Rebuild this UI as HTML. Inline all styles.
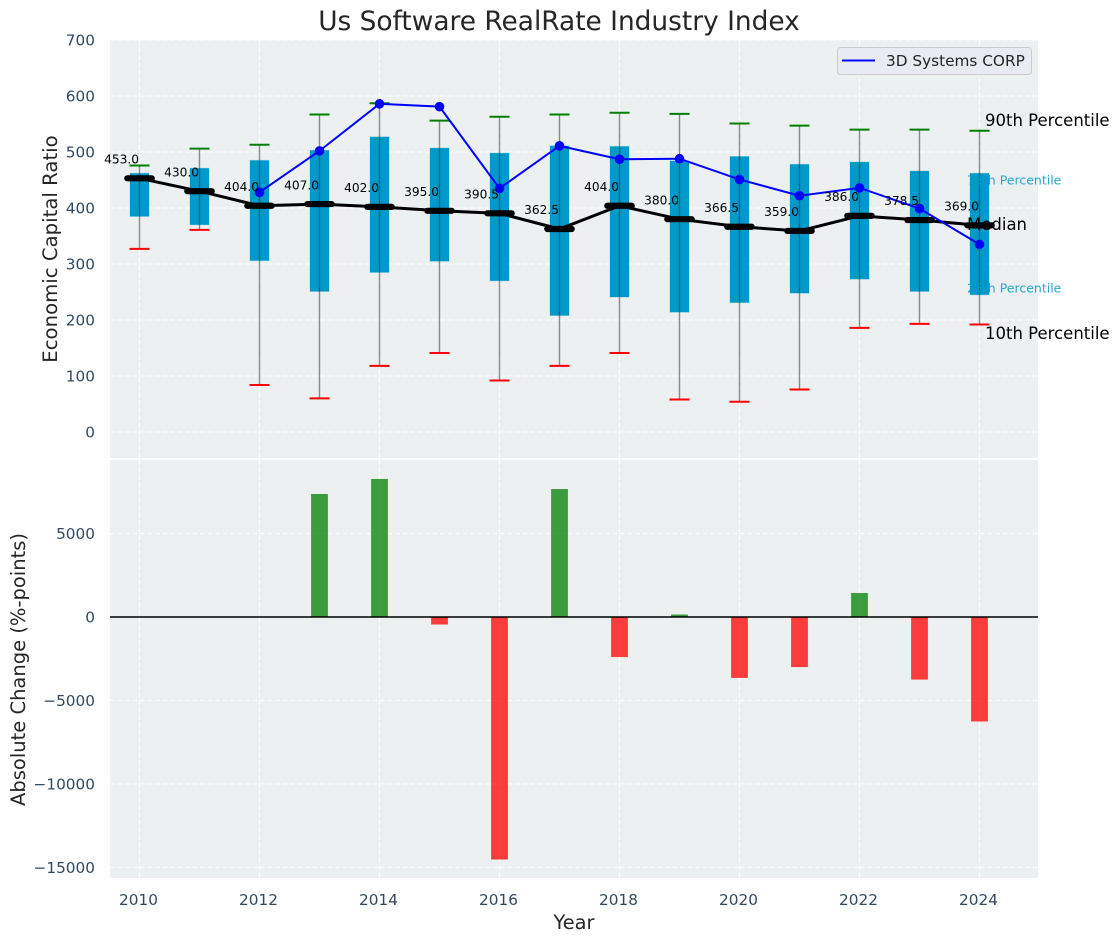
<!DOCTYPE html>
<html>
<head>
<meta charset="utf-8">
<title>Us Software RealRate Industry Index</title>
<style>
html,body{margin:0;padding:0;background:#fff;width:1120px;height:942px;overflow:hidden}
svg{display:block;font-family:"DejaVu Sans","Liberation Sans",sans-serif}
</style>
</head>
<body>
<svg id="chart" width="1120" height="942" viewBox="0 0 1120 942" xmlns="http://www.w3.org/2000/svg">
  <text x="559" y="30" font-size="26.400" text-anchor="middle" fill="#262626">Us Software RealRate Industry Index</text>
  <rect x="110" y="40" width="928" height="418" fill="#ecf0f1"/>
  <rect x="110" y="460" width="928" height="418" fill="#ecf0f1"/>
  <g id="grid"></g>
  <g id="boxes"></g>
  <g id="whiskers"></g>
  <g id="annot-under">
    <text x="985" y="126" font-size="16.500" fill="#000">90th Percentile</text>
    <text x="967" y="184.500" font-size="12.500" fill="#0099cc" fill-opacity="0.85">75th Percentile</text>
    <text x="967" y="230" font-size="16.500" fill="#000">Median</text>
    <text x="967" y="292.500" font-size="12.500" fill="#0099cc" fill-opacity="0.85">25th Percentile</text>
    <text x="985" y="339" font-size="16.500" fill="#000">10th Percentile</text>
  </g>
  <g id="medians"></g>
  <g id="company"></g>
  <g id="median-labels"></g>
  <g id="bars"></g>
  <line x1="110" x2="1038" y1="617" y2="617" stroke="#000" stroke-width="1.400"/>
  <g id="ticks"></g>
  <text transform="translate(57,249) rotate(-90)" font-size="19.700" text-anchor="middle" fill="#262626">Economic Capital Ratio</text>
  <text transform="translate(25,669.500) rotate(-90)" font-size="19.500" text-anchor="middle" fill="#262626">Absolute Change (%-points)</text>
  <text x="574" y="929" font-size="19.400" text-anchor="middle" fill="#262626">Year</text>
  <g>
    <rect x="837.500" y="47.500" width="194" height="27" rx="3" fill="#eaeaf2" fill-opacity="0.9" stroke="#cccccc"/>
    <line x1="842" x2="875" y1="60.500" y2="60.500" stroke="#0000ff" stroke-width="2"/>
    <text x="886" y="66" font-size="15.300" fill="#262626">3D Systems CORP</text>
  </g>
</svg>
<script>
var years = [2010,2011,2012,2013,2014,2015,2016,2017,2018,2019,2020,2021,2022,2023,2024];
var p90 = [476,506,513,567,587,556,563,567,570,568,551,547,540,540,538];
var p75 = [462,471,485,503,527,507,498,511,510,484,492,478,482,466,462];
var p25 = [385,370,306,251,285,305,270,208,241,214,231,248,273,251,245];
var p10 = [327,361,84,60,118,141,92,118,141,58,54,76,186,193,192];
var medians = [453,430,404,407,402,395,390.5,362.5,404,380,366.5,359,386,378.5,369];
var companyValues = [null,null,428,502,586,581,435,511,487,488,451,422,436,399,335];
var changes = [0,0,0,7370,8270,-450,-14530,7670,-2400,150,-3650,-3000,1440,-3750,-6260];
var xTicks = [2010,2012,2014,2016,2018,2020,2022,2024];
var topTicks = [0,100,200,300,400,500,600,700];
var bottomTicks = [5000,0,-5000,-10000,-15000];

var NS = 'http://www.w3.org/2000/svg';
function X(v){ return 139.5 + (v - 2010) * 60; }
function YT(v){ return 432 - v * 0.56; }
function YB(v){ return 617 - v * 0.01669; }
function add(parentId, tag, attrs){
  var el = document.createElementNS(NS, tag);
  for (var k in attrs) el.setAttribute(k, attrs[k]);
  document.getElementById(parentId).appendChild(el);
  return el;
}
function gridLine(x1,y1,x2,y2){
  return add('grid','line',{x1:x1,y1:y1,x2:x2,y2:y2,stroke:'#ffffff','stroke-width':1.1,'stroke-dasharray':'5 2.5','stroke-opacity':0.85});
}
xTicks.forEach(function(t){
  var a = gridLine(X(t),40,X(t),458);
  
  
  var b = gridLine(X(t),460,X(t),878);
  
  
  var l = add('ticks','text',{x:X(t)-1,y:905,'font-size':15.3,'text-anchor':'middle',fill:'#34495e'});
  l.textContent = t;
  
  
});
topTicks.forEach(function(t){
  var g = gridLine(110,YT(t),1038,YT(t));
  
  
  var l = add('ticks','text',{x:95,y:YT(t)+5.5,'font-size':15.3,'text-anchor':'end',fill:'#34495e'});
  l.textContent = t;
  
  
});
bottomTicks.forEach(function(t){
  var g = gridLine(110,YB(t),1038,YB(t));
  
  
  var l = add('ticks','text',{x:95,y:YB(t)+5.5,'font-size':15.3,'text-anchor':'end',fill:'#34495e'});
  l.textContent = String(t).replace('-','\u2212');
  
  
});

years.forEach(function(y,i){
  var x = X(y);
  var box = add('boxes','rect',{x:x-9.5,y:YT(p75[i]),width:19,height:YT(p25[i])-YT(p75[i]),fill:'#0099cc',stroke:'#0099cc','stroke-opacity':0.25,'stroke-width':1});
  
  
  var w = add('whiskers','line',{x1:x,x2:x,y1:YT(p90[i]),y2:YT(p10[i]),stroke:'#333333','stroke-opacity':0.55,'stroke-width':1.4});
  
  
  var hi = add('whiskers','line',{x1:x-10,x2:x+10,y1:YT(p90[i]),y2:YT(p90[i]),stroke:'#008000','stroke-width':2});
  
  
  var lo = add('whiskers','line',{x1:x-10,x2:x+10,y1:YT(p10[i]),y2:YT(p10[i]),stroke:'#ff0000','stroke-width':2});
  
  

  var t = add('median-labels','text',{x:x-0.5,y:YT(medians[i])-14.8,'font-size':12.2,'text-anchor':'end',fill:'#000'});
  t.textContent = medians[i].toFixed(1);
  
  

  var h = changes[i];
  if (h !== 0) {
    var top = Math.min(YB(h),YB(0));
    var b = add('bars','rect',{x:x-8.4,y:top,width:16.8,height:Math.abs(YB(h)-YB(0)),fill:h>0?'#008000':'#ff0000','fill-opacity':0.75});
    
    
  }
});

var mp = years.map(function(y,i){ return X(y)+','+YT(medians[i]); }).join(' ');
var ml = add('medians','polyline',{points:mp,fill:'none',stroke:'#000','stroke-width':3});


years.forEach(function(y,i){
  var m = add('medians','line',{x1:X(y)-12.2,x2:X(y)+12.2,y1:YT(medians[i]),y2:YT(medians[i]),stroke:'#000','stroke-width':6.2,'stroke-linecap':'round'});
  
  
});

var cp = [];
years.forEach(function(y,i){ if (companyValues[i] !== null) cp.push(X(y)+','+YT(companyValues[i])); });
var cl = add('company','polyline',{points:cp.join(' '),fill:'none',stroke:'#0000ff','stroke-width':2});


years.forEach(function(y,i){
  if (companyValues[i] === null) return;
  var c = add('company','circle',{cx:X(y),cy:YT(companyValues[i]),r:4.8,fill:'#0000ff'});
  
  
});
</script>
</body>
</html>
